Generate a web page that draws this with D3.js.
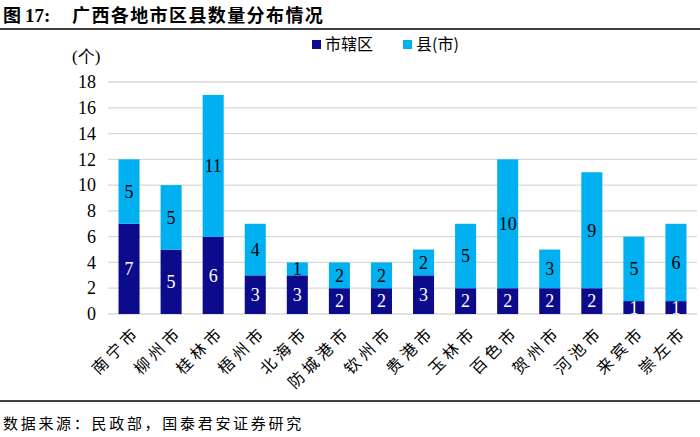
<!DOCTYPE html>
<html>
<head>
<meta charset="utf-8">
<script src="https://cdn.jsdelivr.net/npm/d3@7"></script>
<style>
  body { margin: 0; background: #fff; }
  svg { display: block; }
</style>
</head>
<body>
<div id="chart"></div>
<script>
// chart values
var cities = ["南宁市", "柳州市", "桂林市", "梧州市", "北海市", "防城港市", "钦州市",
              "贵港市", "玉林市", "百色市", "贺州市", "河池市", "来宾市", "崇左市"];
var districts = [7, 5, 6, 3, 3, 2, 2, 3, 2, 2, 2, 2, 1, 1];
var counties = [5, 5, 11, 4, 1, 2, 2, 2, 5, 10, 3, 9, 5, 6];
var seriesNames = ["市辖区", "县(市)"];
var yTicks = [0, 2, 4, 6, 8, 10, 12, 14, 16, 18];

var width = 700,
    height = 437;

var svg = d3.select("#chart")
  .append("svg")
  .attr("width", width)
  .attr("height", height);

var serif = "'Liberation Serif', 'Times New Roman', serif";
var cjk = "'Noto Sans CJK SC', sans-serif";
var dark = "#0B0B8C", light = "#00B0F0";

// title + rules
var title = svg.append("text")
  .attr("x", 3).attr("y", 22)
  .style("font-weight", "bold")
  .style("font-size", "18px");
title.append("tspan").style("font-family", cjk).text("图 ");
title.append("tspan").style("font-family", serif).style("font-size", "19px").text("17:");
title.append("tspan")
  .attr("x", 72)
  .style("font-family", cjk)
  .style("letter-spacing", "1.4px")
  .text("广西各地市区县数量分布情况");

svg.append("line")
  .attr("x1", 0).attr("x2", width)
  .attr("y1", 29).attr("y2", 29)
  .attr("stroke", "#000").attr("stroke-width", 1.5);

svg.append("line")
  .attr("x1", 0).attr("x2", width)
  .attr("y1", 401).attr("y2", 401)
  .attr("stroke", "#000").attr("stroke-width", 1.5);

svg.append("text")
  .attr("x", 3).attr("y", 429)
  .style("font-family", cjk)
  .style("font-size", "15px")
  .style("letter-spacing", "2.7px")
  .text("数据来源：民政部，国泰君安证券研究");

// scales
var x = d3.scaleBand()
  .domain(cities)
  .range([108, 697])
  .paddingInner(0.5)
  .paddingOuter(0.25);

var y = d3.scaleLinear()
  .domain([0, 18])
  .range([314, 82]);

// grid
svg.append("g")
  .selectAll("line")
  .data(yTicks)
  .enter()
  .append("line")
  .attr("x1", 108).attr("x2", 697)
  .attr("y1", function(d) { return y(d); })
  .attr("y2", function(d) { return y(d); })
  .attr("stroke", "#d9d9d9")
  .attr("stroke-width", 1.3);

// y axis labels
var yAxis = svg.append("g")
  .attr("transform", "translate(96,0)")
  .call(d3.axisLeft(y).tickValues(yTicks).tickSize(0).tickPadding(0));
yAxis.select(".domain").remove();
yAxis.selectAll("text")
  .style("font-family", serif)
  .style("font-size", "18px")
  .attr("fill", "#000");

svg.append("text")
  .attr("x", 72).attr("y", 62)
  .style("font-family", serif)
  .style("font-size", "17px")
  .text("(个)");

// stacked bars
var rows = cities.map(function(c, i) {
  return { city: c, a: districts[i], b: counties[i] };
});
var stacked = d3.stack().keys(["a", "b"])(rows);
var colors = [dark, light];
var labelColors = ["#fff", "#000"];

stacked.forEach(function(layer, li) {
  var g = svg.append("g");
  g.selectAll("rect")
    .data(layer)
    .enter()
    .append("rect")
    .attr("x", function(d) { return x(d.data.city); })
    .attr("width", x.bandwidth())
    .attr("y", function(d) { return y(d[1]); })
    .attr("height", function(d) { return y(d[0]) - y(d[1]); })
    .attr("fill", colors[li]);

  g.selectAll("text")
    .data(layer)
    .enter()
    .append("text")
    .attr("x", function(d) { return x(d.data.city) + x.bandwidth() / 2; })
    .attr("y", function(d) { return (y(d[0]) + y(d[1])) / 2; })
    .attr("dy", "0.35em")
    .attr("text-anchor", "middle")
    .style("font-family", serif)
    .style("font-size", "18px")
    .attr("fill", labelColors[li])
    .text(function(d) { return d[1] - d[0]; });
});

// x labels, rotated
svg.append("g")
  .selectAll("text")
  .data(cities)
  .enter()
  .append("text")
  .attr("transform", function(d) {
    return "translate(" + (x(d) + x.bandwidth() / 2 + 8) + ",329) rotate(-45)";
  })
  .attr("text-anchor", "end")
  .attr("dy", "0.35em")
  .style("font-family", cjk)
  .style("font-size", "16px")
  .style("letter-spacing", "4px")
  .text(function(d) { return d; });

// legend
var legend = svg.append("g");
var legendX = [312, 403];
seriesNames.forEach(function(name, i) {
  legend.append("rect")
    .attr("x", legendX[i]).attr("y", 40)
    .attr("width", 9).attr("height", 9)
    .attr("fill", colors[i]);
  legend.append("text")
    .attr("x", legendX[i] + 13).attr("y", 50)
    .style("font-family", cjk)
    .style("font-size", "16px")
    .text(name);
});
</script>
</body>
</html>
